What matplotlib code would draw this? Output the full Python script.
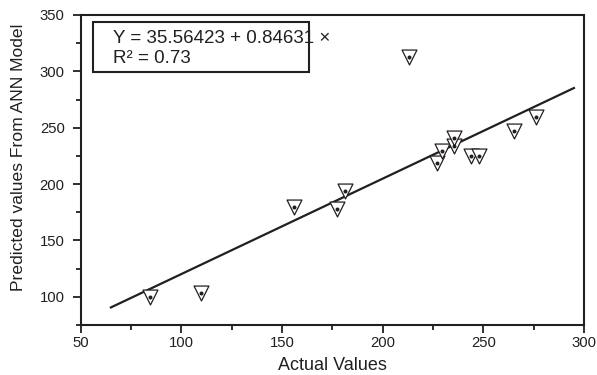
import matplotlib
matplotlib.use("Agg")
import matplotlib.pyplot as plt
from matplotlib.patches import Rectangle
from matplotlib.ticker import MultipleLocator
import numpy as np

plt.rcParams['font.family'] = ['Liberation Sans', 'DejaVu Sans']
narrow = ['Liberation Sans Narrow', 'Liberation Sans', 'DejaVu Sans']

# values
actual = [84.4, 109.8, 156.1, 177.5, 181.3, 213.0, 226.8, 229.5, 235.4, 235.4,
          243.7, 248.0, 265.2, 276.2]
predicted = [99.4, 103.0, 180.1, 178.0, 193.7, 312.9, 218.9, 229.3, 234.1, 241.2,
             224.8, 224.8, 246.8, 259.5]
intercept = 35.56423
slope = 0.84631
fit_x = [65, 295]
eq_text = "Y = 35.56423 + 0.84631 \u00d7"
r2_text = "R\u00b2 = 0.73"

ink = '#231f20'

fig = plt.figure(figsize=(5.97, 3.75), dpi=100)
ax = fig.add_axes([80.7 / 597, 50 / 375, 503.3 / 597, 310 / 375])

fx = np.array(fit_x)
ax.plot(fx, intercept + slope * fx, color=ink, lw=1.6, zorder=2)

ax.scatter(actual, predicted, marker='v', s=115, facecolor='white',
           edgecolor=ink, linewidth=0.9, zorder=3)
ax.scatter(actual, predicted, marker='o', s=3.5, color=ink, zorder=4)

ax.set_xlim(50, 300)
ax.set_ylim(75, 350)
ax.xaxis.set_major_locator(MultipleLocator(50))
ax.xaxis.set_minor_locator(MultipleLocator(25))
ax.yaxis.set_major_locator(MultipleLocator(50))
ax.yaxis.set_minor_locator(MultipleLocator(25))
ax.set_yticks([100, 150, 200, 250, 300, 350])

for s in ax.spines.values():
    s.set_linewidth(1.5)
    s.set_color(ink)

ax.tick_params(axis='both', which='major', direction='out', length=5.5, width=1.3,
               colors=ink)
ax.tick_params(axis='both', which='minor', direction='out', length=3.5, width=1.3,
               colors=ink)
ax.tick_params(axis='x', which='major', pad=2.5)
ax.tick_params(axis='y', which='major', pad=6)
ax.tick_params(top=False, right=False, which='both')
for lab in ax.get_xticklabels() + ax.get_yticklabels():
    lab.set_family(narrow)
    lab.set_fontsize(10.7)

ax.set_xlabel("Actual Values", fontsize=13, color=ink)
ax.xaxis.set_label_coords(0.501, -0.103)
ax.set_ylabel("Predicted values From ANN Model", fontsize=12.6, color=ink)
ax.yaxis.set_label_coords(-0.108, 0.54)

# equation box
ax.add_patch(Rectangle((0.0238, 0.817), 0.4298, 0.1595, transform=ax.transAxes,
                       facecolor='white', edgecolor=ink, linewidth=1.5, zorder=5))
ax.text(0.0642, 0.9087, eq_text, transform=ax.transAxes, fontsize=13.5, color=ink,
        family=narrow, va='baseline', ha='left', zorder=6)
ax.text(0.0642, 0.8442, r2_text, transform=ax.transAxes, fontsize=13.5, color=ink,
        family=narrow, va='baseline', ha='left', zorder=6)

fig.savefig("out.png", dpi=100)
